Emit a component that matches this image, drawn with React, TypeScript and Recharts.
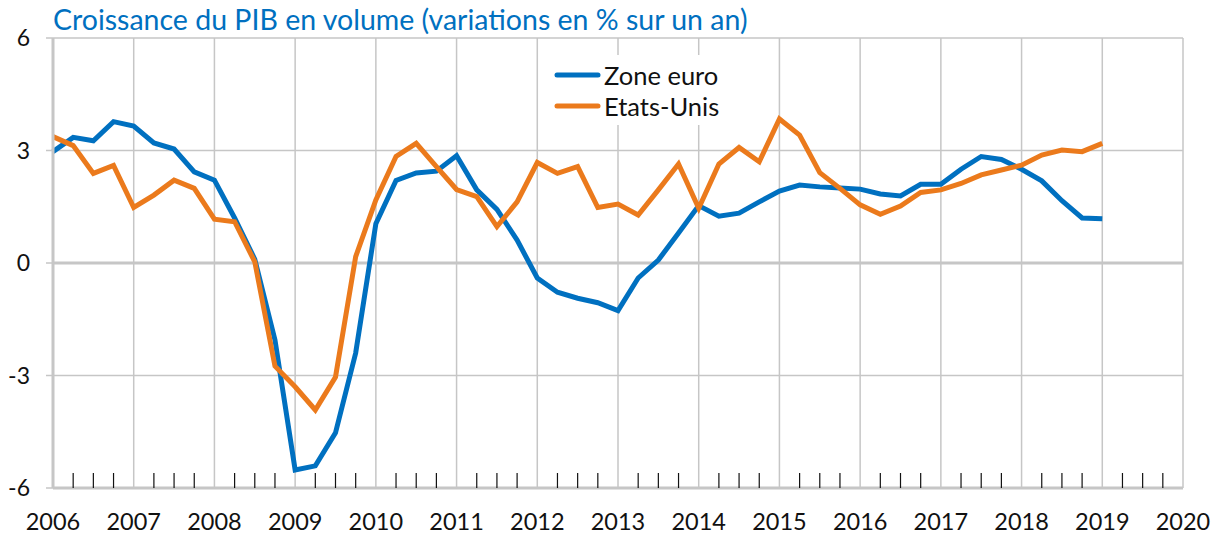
import React from "react";
import {
  LineChart,
  Line,
  XAxis,
  YAxis,
  CartesianGrid,
  ReferenceLine,
  Legend,
} from "recharts";

const TITLE = "Croissance du PIB en volume (variations en % sur un an)";

// quarterly series, 2006 T1 -> 2019 T1
const firstYear = 2006;
const zoneEuro = [
  2.97, 3.35, 3.26, 3.77, 3.65, 3.2, 3.04, 2.43, 2.21, 1.2, 0.1, -2.05,
  -5.52, -5.41, -4.53, -2.4, 1.05, 2.2, 2.4, 2.45, 2.86, 1.95, 1.43, 0.61,
  -0.4, -0.78, -0.94, -1.06, -1.27, -0.4, 0.08, 0.8, 1.53, 1.25, 1.33, 1.63,
  1.92, 2.08, 2.03, 2.0, 1.97, 1.84, 1.79, 2.1, 2.1, 2.5, 2.84, 2.76, 2.5,
  2.19, 1.66, 1.2, 1.18,
];
const etatsUnis = [
  3.37, 3.13, 2.39, 2.6, 1.48, 1.81, 2.21, 1.99, 1.17, 1.1, 0.03, -2.75,
  -3.3, -3.92, -3.04, 0.17, 1.68, 2.84, 3.19, 2.57, 1.96, 1.77, 0.97, 1.63,
  2.68, 2.39, 2.57, 1.48, 1.57, 1.28, 1.95, 2.64, 1.46, 2.64, 3.08, 2.7,
  3.84, 3.41, 2.41, 1.99, 1.55, 1.3, 1.52, 1.88, 1.95, 2.12, 2.35, 2.48,
  2.61, 2.88, 3.01, 2.97, 3.19,
];

const yearTicks = [
  2006, 2007, 2008, 2009, 2010, 2011, 2012, 2013, 2014, 2015, 2016, 2017,
  2018, 2019, 2020,
];
const yTicks = [-6, -3, 0, 3, 6];

const quarterTicks = yearTicks
  .slice(0, -1)
  .flatMap((y) => [y + 0.25, y + 0.5, y + 0.75]);

const data = zoneEuro.map((v, i) => ({
  t: firstYear + i * 0.25,
  zone: v,
  us: etatsUnis[i],
}));

const BLUE = "#0070C0";
const ORANGE = "#EB7A1C";
const GRID = "#c6c6c6";
const FONT = "Lato, 'Noto Sans', sans-serif";

function LegendBox() {
  const rows = [
    { label: "Zone euro", color: BLUE },
    { label: "Etats-Unis", color: ORANGE },
  ];
  return (
    <div style={{ background: "#fff", padding: "4px 6px 4px 6px" }}>
      {rows.map((r) => (
        <div
          key={r.label}
          style={{ display: "flex", alignItems: "center", height: 31 }}
        >
          <svg width={48} height={10}>
            <line
              x1={3}
              y1={5}
              x2={44}
              y2={5}
              stroke={r.color}
              strokeWidth={5}
              strokeLinecap="round"
            />
          </svg>
          <span
            style={{
              fontFamily: FONT,
              fontSize: 25.5,
              color: "#111",
              marginLeft: 2,
            }}
          >
            {r.label}
          </span>
        </div>
      ))}
    </div>
  );
}

export default function App() {
  return (
    <div
      style={{
        position: "absolute",
        left: 0,
        top: 0,
        width: 1211,
        height: 534,
        background: "#fff",
      }}
    >
      <div
        style={{
          position: "absolute",
          left: 53,
          top: 2,
          fontFamily: FONT,
          fontSize: 28.5,
          lineHeight: "34px",
          color: BLUE,
          whiteSpace: "nowrap",
        }}
      >
        {TITLE}
      </div>
      <LineChart
        width={1211}
        height={534}
        data={data}
        margin={{ top: 38, right: 28, bottom: 0, left: 0 }}
      >
        <CartesianGrid stroke={GRID} strokeWidth={1.5} />
        <XAxis
          dataKey="t"
          type="number"
          domain={[2006, 2020]}
          ticks={yearTicks}
          interval={0}
          height={46}
          tickLine={false}
          axisLine={{ stroke: GRID, strokeWidth: 3 }}
          tick={{ fontSize: 23.5, fill: "#111", fontFamily: FONT }}
          tickMargin={19}
        />
        <XAxis
          xAxisId="q"
          dataKey="t"
          type="number"
          domain={[2006, 2020]}
          ticks={quarterTicks}
          interval={0}
          mirror
          tickSize={15}
          tick={() => <g />}
          axisLine={false}
          tickLine={{ stroke: "#111", strokeWidth: 1.2 }}
        />
        <YAxis
          domain={[-6, 6]}
          ticks={yTicks}
          interval={0}
          width={53}
          tickSize={7}
          tickMargin={16}
          axisLine={{ stroke: GRID, strokeWidth: 3 }}
          tickLine={{ stroke: GRID, strokeWidth: 1.5 }}
          tick={{ fontSize: 23, fill: "#111", fontFamily: FONT }}
        />
        <ReferenceLine y={0} stroke={GRID} strokeWidth={3} />
        <Legend
          layout="vertical"
          align="center"
          verticalAlign="middle"
          wrapperStyle={{ left: 548, top: 55, width: "auto" }}
          content={() => <LegendBox />}
        />
        <Line
          type="linear"
          dataKey="zone"
          stroke={BLUE}
          strokeWidth={5}
          dot={false}
          isAnimationActive={false}
        />
        <Line
          type="linear"
          dataKey="us"
          stroke={ORANGE}
          strokeWidth={5}
          dot={false}
          isAnimationActive={false}
        />
      </LineChart>
    </div>
  );
}
